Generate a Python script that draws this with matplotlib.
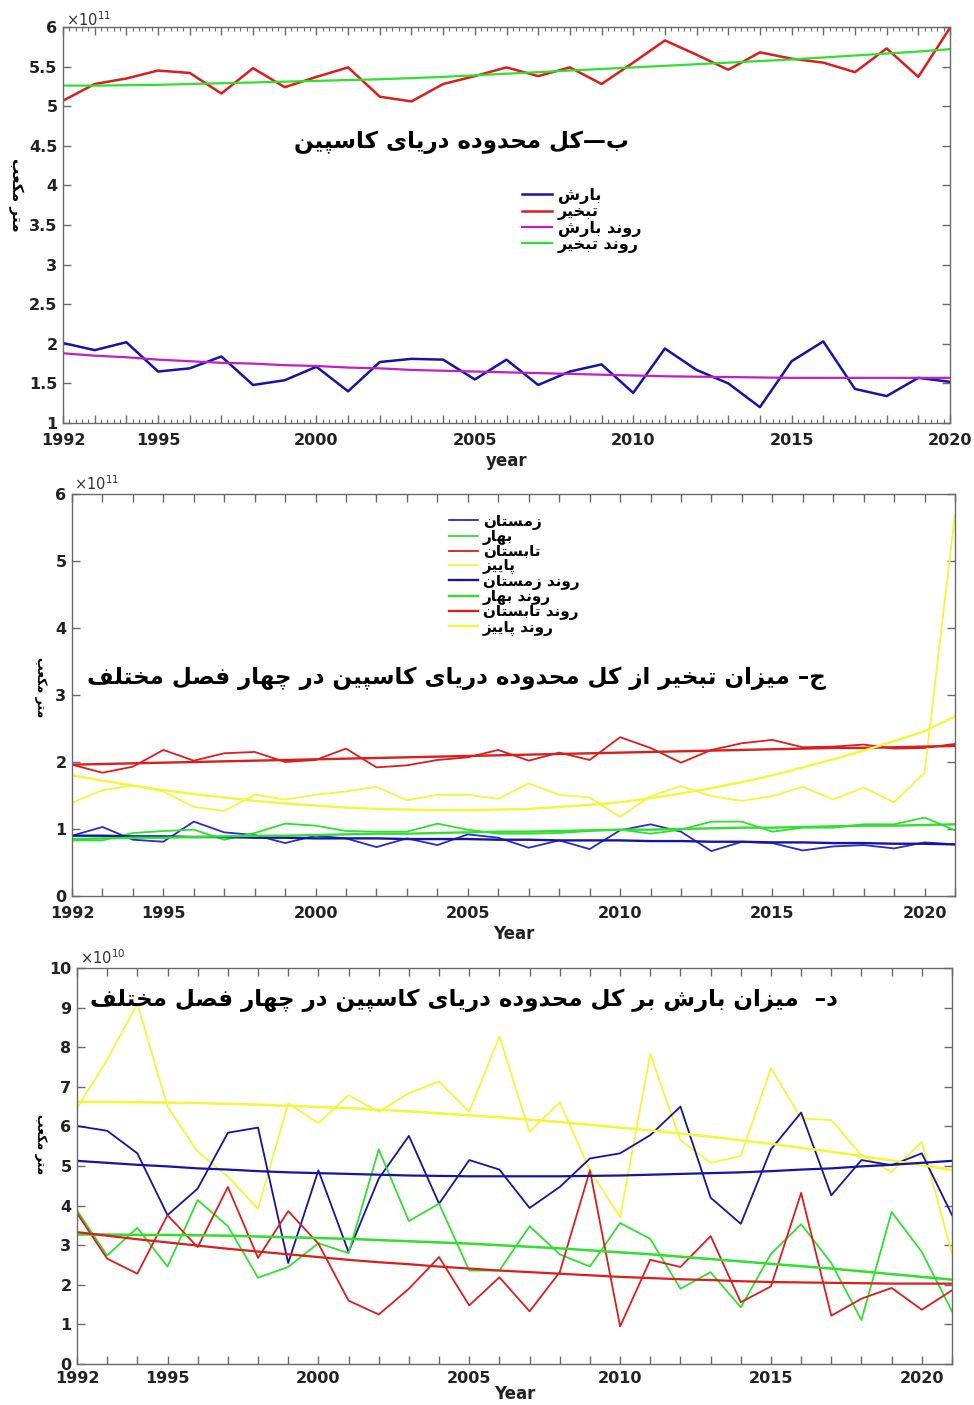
import numpy as np
import matplotlib
matplotlib.use('Agg')
import matplotlib.pyplot as plt
from matplotlib.lines import Line2D
from matplotlib.ticker import FixedLocator, MultipleLocator, FuncFormatter

# ---------------- data ----------------
years_a = list(range(1992, 2021))
precip_a = [2.01, 1.92, 2.02, 1.65, 1.69, 1.84, 1.48, 1.54, 1.71, 1.40, 1.77, 1.81, 1.80, 1.55,
            1.80, 1.48, 1.65, 1.74, 1.38, 1.94, 1.67, 1.50, 1.20, 1.78, 2.03, 1.43, 1.34, 1.57, 1.52]
evap_a = [5.07, 5.28, 5.35, 5.45, 5.42, 5.16, 5.48, 5.24, 5.37, 5.49, 5.12, 5.06, 5.28, 5.38,
          5.49, 5.38, 5.49, 5.28, 5.55, 5.83, 5.65, 5.46, 5.68, 5.60, 5.55, 5.43, 5.73, 5.37, 5.99]
precip_trend_a = [1.88, 1.85, 1.83, 1.80, 1.78, 1.76, 1.75, 1.73, 1.72, 1.70, 1.69, 1.67, 1.66, 1.65,
                  1.64, 1.63, 1.62, 1.61, 1.60, 1.59, 1.585, 1.58, 1.575, 1.57, 1.57, 1.57, 1.57, 1.57, 1.57]
evap_trend_a = [5.26, 5.26, 5.265, 5.27, 5.28, 5.29, 5.30, 5.31, 5.32, 5.33, 5.34, 5.355, 5.37, 5.39,
                5.41, 5.43, 5.45, 5.47, 5.49, 5.51, 5.53, 5.55, 5.57, 5.59, 5.615, 5.64, 5.665, 5.69, 5.72]

years_b = list(range(1992, 2022))
evap_winter = [0.90, 1.03, 0.84, 0.81, 1.11, 0.95, 0.91, 0.79, 0.90, 0.86, 0.73, 0.86, 0.76, 0.92, 0.87,
               0.72, 0.83, 0.70, 0.98, 1.07, 0.96, 0.67, 0.81, 0.79, 0.68, 0.74, 0.76, 0.71, 0.80, 0.77]
evap_spring = [0.83, 0.83, 0.94, 0.97, 0.99, 0.84, 0.94, 1.08, 1.05, 0.97, 0.96, 0.96, 1.08, 0.99, 0.93,
               0.93, 0.94, 0.97, 0.99, 0.93, 0.99, 1.11, 1.11, 0.96, 1.02, 1.02, 1.07, 1.07, 1.17, 0.98]
evap_summer = [1.96, 1.84, 1.93, 2.18, 2.02, 2.13, 2.15, 2.00, 2.03, 2.20, 1.92, 1.95, 2.03, 2.07, 2.18,
               2.02, 2.14, 2.03, 2.37, 2.21, 1.99, 2.18, 2.28, 2.33, 2.22, 2.23, 2.26, 2.20, 2.21, 2.27]
evap_autumn = [1.39, 1.58, 1.65, 1.56, 1.33, 1.27, 1.51, 1.44, 1.51, 1.56, 1.63, 1.43, 1.51, 1.51, 1.45,
               1.68, 1.51, 1.47, 1.18, 1.49, 1.64, 1.49, 1.42, 1.49, 1.63, 1.44, 1.62, 1.40, 1.84, 5.70]
evap_winter_trend = [0.90, 0.90, 0.89, 0.89, 0.88, 0.88, 0.87, 0.87, 0.86, 0.86, 0.86, 0.85, 0.85, 0.85, 0.84,
                     0.84, 0.83, 0.83, 0.83, 0.82, 0.82, 0.81, 0.81, 0.80, 0.80, 0.79, 0.79, 0.78, 0.78, 0.77]
evap_spring_trend = [0.85, 0.86, 0.87, 0.87, 0.88, 0.89, 0.90, 0.90, 0.91, 0.92, 0.93, 0.93, 0.94, 0.95, 0.96,
                     0.96, 0.97, 0.98, 0.99, 0.99, 1.00, 1.01, 1.02, 1.02, 1.03, 1.04, 1.05, 1.05, 1.06, 1.07]
evap_summer_trend = [1.96, 1.97, 1.98, 1.99, 2.00, 2.01, 2.02, 2.03, 2.04, 2.05, 2.06, 2.07, 2.08, 2.09, 2.10,
                     2.11, 2.12, 2.13, 2.14, 2.15, 2.16, 2.17, 2.18, 2.19, 2.20, 2.21, 2.21, 2.22, 2.23, 2.24]
evap_autumn_trend = [1.80, 1.72, 1.65, 1.58, 1.52, 1.47, 1.42, 1.38, 1.35, 1.32, 1.30, 1.29, 1.28, 1.28, 1.29,
                     1.30, 1.33, 1.36, 1.40, 1.46, 1.53, 1.61, 1.70, 1.80, 1.92, 2.04, 2.17, 2.31, 2.46, 2.68]

pr_winter = [6.01, 5.89, 5.32, 3.76, 4.43, 5.84, 5.97, 2.55, 4.89, 2.83, 4.68, 5.76, 4.05, 5.15, 4.91,
             3.94, 4.47, 5.19, 5.32, 5.78, 6.50, 4.20, 3.54, 5.42, 6.35, 4.26, 5.15, 5.02, 5.32, 3.76]
pr_spring = [3.88, 2.74, 3.44, 2.46, 4.14, 3.48, 2.18, 2.45, 3.05, 2.80, 5.42, 3.61, 4.05, 2.36, 2.36,
             3.48, 2.77, 2.46, 3.56, 3.16, 1.90, 2.32, 1.43, 2.78, 3.53, 2.55, 1.11, 3.84, 2.83, 1.33]
pr_summer = [3.81, 2.66, 2.28, 3.76, 2.95, 4.47, 2.68, 3.86, 3.04, 1.60, 1.25, 1.90, 2.70, 1.48, 2.19,
             1.33, 2.32, 4.89, 0.95, 2.63, 2.45, 3.23, 1.56, 1.96, 4.32, 1.22, 1.65, 1.92, 1.37, 1.86]
pr_autumn = [6.46, 7.68, 9.10, 6.50, 5.36, 4.73, 3.92, 6.58, 6.08, 6.79, 6.37, 6.84, 7.13, 6.37, 8.27,
             5.86, 6.61, 4.89, 3.71, 7.83, 5.65, 5.08, 5.25, 7.47, 6.20, 6.16, 5.27, 4.85, 5.61, 2.78]
pr_winter_trend = [5.13, 5.08, 5.03, 4.99, 4.94, 4.91, 4.87, 4.84, 4.82, 4.80, 4.78, 4.76, 4.75, 4.74, 4.74,
                   4.74, 4.74, 4.75, 4.76, 4.78, 4.80, 4.82, 4.84, 4.87, 4.91, 4.94, 4.99, 5.03, 5.08, 5.13]
pr_spring_trend = [3.27, 3.27, 3.26, 3.26, 3.25, 3.24, 3.22, 3.20, 3.18, 3.16, 3.13, 3.10, 3.07, 3.04, 3.00,
                   2.96, 2.92, 2.87, 2.82, 2.77, 2.71, 2.65, 2.59, 2.53, 2.47, 2.41, 2.34, 2.27, 2.20, 2.13]
pr_summer_trend = [3.33, 3.24, 3.15, 3.07, 2.99, 2.91, 2.84, 2.77, 2.70, 2.63, 2.57, 2.52, 2.46, 2.41, 2.36,
                   2.32, 2.28, 2.24, 2.20, 2.17, 2.14, 2.12, 2.09, 2.07, 2.06, 2.05, 2.04, 2.03, 2.03, 2.03]
pr_autumn_trend = [6.62, 6.62, 6.61, 6.60, 6.59, 6.57, 6.55, 6.52, 6.49, 6.46, 6.42, 6.38, 6.33, 6.28, 6.23,
                   6.17, 6.11, 6.04, 5.97, 5.90, 5.82, 5.74, 5.65, 5.56, 5.46, 5.36, 5.25, 5.14, 5.02, 4.90]

labels_a = ['بارش', 'تبخیر', 'روند بارش', 'روند تبخیر']
labels_b = ['زمستان', 'بهار', 'تابستان', 'پاییز',
            'روند زمستان', 'روند بهار', 'روند تابستان', 'روند پاییز']
title_a = 'ب—کل محدوده دریای کاسپین'
title_b = 'ج– میزان تبخیر از کل محدوده دریای کاسپین در چهار فصل مختلف'
title_c = 'د–  میزان بارش بر کل محدوده دریای کاسپین در چهار فصل مختلف'
ylabel_txt = 'متر مکعب'
xticks_labeled = [1992, 1995, 2000, 2005, 2010, 2015, 2020]

# ---------------- Persian shaping (presentation forms + visual order) ----------------
FORMS = {
    '\u0627': ('\uFE8D', '\uFE8E'),
    '\u0628': ('\uFE8F', '\uFE90', '\uFE91', '\uFE92'),
    '\u067E': ('\uFB56', '\uFB57', '\uFB58', '\uFB59'),
    '\u062A': ('\uFE95', '\uFE96', '\uFE97', '\uFE98'),
    '\u062B': ('\uFE99', '\uFE9A', '\uFE9B', '\uFE9C'),
    '\u062C': ('\uFE9D', '\uFE9E', '\uFE9F', '\uFEA0'),
    '\u0686': ('\uFB7A', '\uFB7B', '\uFB7C', '\uFB7D'),
    '\u062D': ('\uFEA1', '\uFEA2', '\uFEA3', '\uFEA4'),
    '\u062E': ('\uFEA5', '\uFEA6', '\uFEA7', '\uFEA8'),
    '\u062F': ('\uFEA9', '\uFEAA'),
    '\u0630': ('\uFEAB', '\uFEAC'),
    '\u0631': ('\uFEAD', '\uFEAE'),
    '\u0632': ('\uFEAF', '\uFEB0'),
    '\u0698': ('\uFB8A', '\uFB8B'),
    '\u0633': ('\uFEB1', '\uFEB2', '\uFEB3', '\uFEB4'),
    '\u0634': ('\uFEB5', '\uFEB6', '\uFEB7', '\uFEB8'),
    '\u0635': ('\uFEB9', '\uFEBA', '\uFEBB', '\uFEBC'),
    '\u0636': ('\uFEBD', '\uFEBE', '\uFEBF', '\uFEC0'),
    '\u0637': ('\uFEC1', '\uFEC2', '\uFEC3', '\uFEC4'),
    '\u0638': ('\uFEC5', '\uFEC6', '\uFEC7', '\uFEC8'),
    '\u0639': ('\uFEC9', '\uFECA', '\uFECB', '\uFECC'),
    '\u063A': ('\uFECD', '\uFECE', '\uFECF', '\uFED0'),
    '\u0641': ('\uFED1', '\uFED2', '\uFED3', '\uFED4'),
    '\u0642': ('\uFED5', '\uFED6', '\uFED7', '\uFED8'),
    '\u06A9': ('\uFB8E', '\uFB8F', '\uFB90', '\uFB91'),
    '\u06AF': ('\uFB92', '\uFB93', '\uFB94', '\uFB95'),
    '\u0644': ('\uFEDD', '\uFEDE', '\uFEDF', '\uFEE0'),
    '\u0645': ('\uFEE1', '\uFEE2', '\uFEE3', '\uFEE4'),
    '\u0646': ('\uFEE5', '\uFEE6', '\uFEE7', '\uFEE8'),
    '\u0647': ('\uFEE9', '\uFEEA', '\uFEEB', '\uFEEC'),
    '\u0648': ('\uFEED', '\uFEEE'),
    '\u06CC': ('\uFBFC', '\uFBFD', '\uFBFE', '\uFBFF'),
}


def fa(s):
    s = s.replace('\u064A', '\u06CC').replace('\u0643', '\u06A9')
    ch = list(s)
    n = len(ch)
    dual = lambda c: c in FORMS and len(FORMS[c]) == 4
    out = []
    for i, c in enumerate(ch):
        if c not in FORMS:
            out.append(c)
            continue
        p = i > 0 and dual(ch[i - 1])
        q = dual(c) and i + 1 < n and ch[i + 1] in FORMS
        f = FORMS[c]
        if p and q:
            out.append(f[3])
        elif p:
            out.append(f[1])
        elif q:
            out.append(f[2])
        else:
            out.append(f[0])
    return ''.join(reversed(out))


# ---------------- figure ----------------
W, H = 974, 1405
fig = plt.figure(figsize=(W / 100, H / 100), dpi=100)
fig.patch.set_facecolor('white')

AR = ['DejaVu Sans']
BLUE = '#2a2ad0'
BLUE_T = '#1414a8'
RED = '#dd1c1c'
GREEN = '#2fe02f'
YELLOW = '#f5f53a'
MAG = '#c21ec2'
SPINE = '#6a6a6a'
TXT = '#222222'


def fax(l, t, r, b):
    return fig.add_axes([l / W, 1 - b / H, (r - l) / W, (b - t) / H])


def style(ax, xmin, xmax, ymin, ymax, ystep, labfmt, xpad=7):
    ax.set_xlim(xmin, xmax)
    ax.set_ylim(ymin, ymax)
    for s in ax.spines.values():
        s.set_color(SPINE)
        s.set_linewidth(1.0)
    ax.xaxis.set_major_locator(FixedLocator(list(range(xmin, xmax + 1))))
    ax.xaxis.set_major_formatter(FuncFormatter(lambda v, p: str(int(round(v))) if int(round(v)) in xticks_labeled else ''))
    ax.yaxis.set_major_locator(MultipleLocator(ystep))
    ax.yaxis.set_major_formatter(FuncFormatter(labfmt))
    ax.tick_params(axis='both', which='both', direction='in', top=True, right=True,
                   color=SPINE, labelcolor=TXT)
    ax.tick_params(axis='both', which='major', length=6, width=1.0, labelsize=11.5)
    ax.tick_params(axis='x', which='major', pad=xpad)
    ax.tick_params(axis='y', which='major', pad=4)


def bold_ticks(ax):
    for lab in ax.get_xticklabels() + ax.get_yticklabels():
        lab.set_fontweight('bold')


TITLE_FS = 16.6

# ---- panel 1 ----
ax1 = fax(63, 27, 950, 423)
style(ax1, 1992, 2020, 1, 6, 0.5, lambda v, p: ('%g' % v))
ax1.xaxis.set_minor_locator(MultipleLocator(0.2))
ax1.tick_params(axis='x', which='minor', length=3, width=0.8)
l1, = ax1.plot(years_a, precip_a, color=BLUE_T, lw=1.8)
l2, = ax1.plot(years_a, evap_a, color=RED, lw=1.8)
l3, = ax1.plot(years_a, precip_trend_a, color=MAG, lw=1.6)
l4, = ax1.plot(years_a, evap_trend_a, color=GREEN, lw=1.6)
bold_ticks(ax1)
ax1.set_xlabel('year', fontsize=12, fontweight='bold', color=TXT, labelpad=3)
ax1.legend([l1, l2, l3, l4], [fa(s) for s in labels_a], loc='upper left',
           bbox_to_anchor=(514 / W, 1 - 180 / H), bbox_transform=fig.transFigure,
           frameon=False, handlelength=1.9, handletextpad=0.35, labelspacing=0.02,
           borderpad=0, prop={'family': AR, 'weight': 'bold', 'size': 11.5})
fig.text(462 / W, 1 - 142 / H, fa(title_a), ha='center', va='center', fontsize=TITLE_FS,
         fontweight='bold', family=AR, color='black')
fig.text(66 / W, 1 - 20 / H, r'$\times10^{11}$', fontsize=10.5, color='#333333', va='center', ha='left')

# ---- panel 2 ----
ax2 = fax(72, 494, 955, 896)
style(ax2, 1992, 2021, 0, 6, 1, lambda v, p: ('%g' % v))
h = []
h.append(ax2.plot(years_b, evap_winter, color=BLUE, lw=1.3)[0])
h.append(ax2.plot(years_b, evap_spring, color=GREEN, lw=1.3)[0])
h.append(ax2.plot(years_b, evap_summer, color=RED, lw=1.3)[0])
h.append(ax2.plot(years_b, evap_autumn, color=YELLOW, lw=1.3)[0])
h.append(ax2.plot(years_b, evap_winter_trend, color=BLUE_T, lw=1.7)[0])
h.append(ax2.plot(years_b, evap_spring_trend, color=GREEN, lw=1.7)[0])
h.append(ax2.plot(years_b, evap_summer_trend, color=RED, lw=1.7)[0])
h.append(ax2.plot(years_b, evap_autumn_trend, color=YELLOW, lw=1.7)[0])
bold_ticks(ax2)
ax2.set_xlabel('Year', fontsize=12, fontweight='bold', color=TXT, labelpad=3)
ax2.legend(h, [fa(s) for s in labels_b], loc='upper left',
           bbox_to_anchor=(441 / W, 1 - 506 / H), bbox_transform=fig.transFigure,
           frameon=False, handlelength=1.9, handletextpad=0.35, labelspacing=-0.05,
           borderpad=0, prop={'family': AR, 'weight': 'bold', 'size': 11})
fig.text(456 / W, 1 - 678 / H, fa(title_b), ha='center', va='center', fontsize=TITLE_FS,
         fontweight='bold', family=AR, color='black')
fig.text(74 / W, 1 - 484 / H, r'$\times10^{11}$', fontsize=10.5, color='#333333', va='center', ha='left')

# ---- panel 3 ----
ax3 = fax(77, 968, 952, 1364)
style(ax3, 1992, 2021, 0, 10, 1, lambda v, p: ('%g' % v), xpad=5)
ax3.plot(years_b, pr_autumn, color=YELLOW, lw=1.3)
ax3.plot(years_b, pr_winter, color=BLUE_T, lw=1.3)
ax3.plot(years_b, pr_spring, color=GREEN, lw=1.3)
ax3.plot(years_b, pr_summer, color=RED, lw=1.3)
ax3.plot(years_b, pr_autumn_trend, color=YELLOW, lw=1.8)
ax3.plot(years_b, pr_winter_trend, color=BLUE_T, lw=1.6)
ax3.plot(years_b, pr_spring_trend, color=GREEN, lw=1.8)
ax3.plot(years_b, pr_summer_trend, color=RED, lw=1.6)
bold_ticks(ax3)
ax3.set_xlabel('Year', fontsize=12, fontweight='bold', color=TXT, labelpad=-1)
fig.text(464 / W, 1 - 1000 / H, fa(title_c), ha='center', va='center', fontsize=TITLE_FS,
         fontweight='bold', family=AR, color='black')
fig.text(80 / W, 1 - 958 / H, r'$\times10^{10}$', fontsize=10.5, color='#333333', va='center', ha='left')

# y labels
for (x, y, fs) in [(16, 195, 11), (40, 687, 9), (40, 1144, 9)]:
    fig.text(x / W, 1 - y / H, fa(ylabel_txt), rotation=270, ha='center', va='center',
             fontsize=fs, fontweight='bold', family=AR, color='black')

fig.savefig('out.png', dpi=100, facecolor='white')
